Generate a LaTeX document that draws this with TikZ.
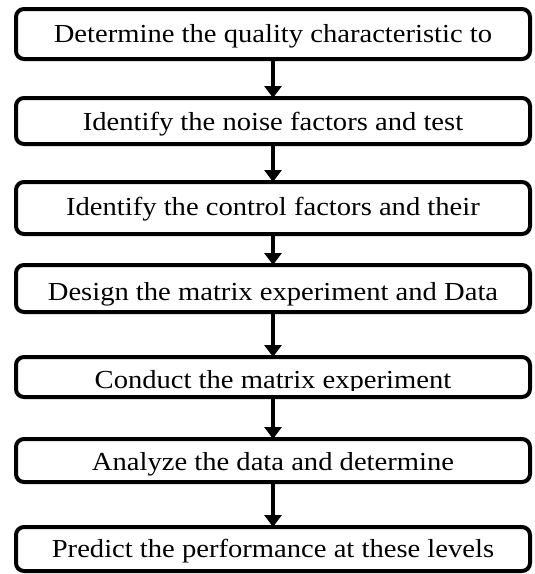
\documentclass[tikz,border=0pt]{standalone}
\usepackage{fontspec}
\setmainfont[FakeStretch=1.1]{Liberation Serif}
\usetikzlibrary{arrows.meta}
\begin{document}
\begin{tikzpicture}[x=1pt,y=-1pt,
  stepbox/.style={draw=black,line width=4pt,rounded corners=8pt,minimum width=514pt,inner sep=0pt,outer sep=0pt,fill=white},
  steptext/.style={anchor=base,inner sep=0pt,font=\fontsize{26pt}{30pt}\selectfont},
  flow/.style={line width=4pt,-{Triangle[width=17pt,length=12pt]}}]
\useasboundingbox (0,0) rectangle (535,574);
\node[stepbox,minimum height=50pt] (b1) at (273,34) {};
\node[stepbox,minimum height=46pt] (b2) at (273,121) {};
\node[stepbox,minimum height=52pt] (b3) at (273,208) {};
\node[stepbox,minimum height=47pt] (b4) at (273,288.5) {};
\node[stepbox,minimum height=40pt] (b5) at (273,377) {};
\node[stepbox,minimum height=43pt] (b6) at (273,460.5) {};
\node[stepbox,minimum height=44pt] (b7) at (273,549) {};
\node[steptext] (t1) at (273,42) {Determine the quality characteristic to};
\node[steptext] (t2) at (273,130) {Identify the noise factors and test};
\node[steptext] (t3) at (273,215) {Identify the control factors and their};
\node[steptext] (t4) at (273,300) {Design the matrix experiment and Data};
\begin{scope}
\clip (20,360) rectangle (526,390);
\node[steptext] (t5) at (273,388) {Conduct the matrix experiment};
\end{scope}
\node[steptext] (t6) at (273,470) {Analyze the data and determine};
\node[steptext] (t7) at (273,557) {Predict the performance at these levels};
\foreach \a/\b in {b1/b2,b2/b3,b3/b4,b4/b5,b5/b6,b6/b7}
  \draw[flow] (\a.south) -- (\b.north);
\end{tikzpicture}
\end{document}
